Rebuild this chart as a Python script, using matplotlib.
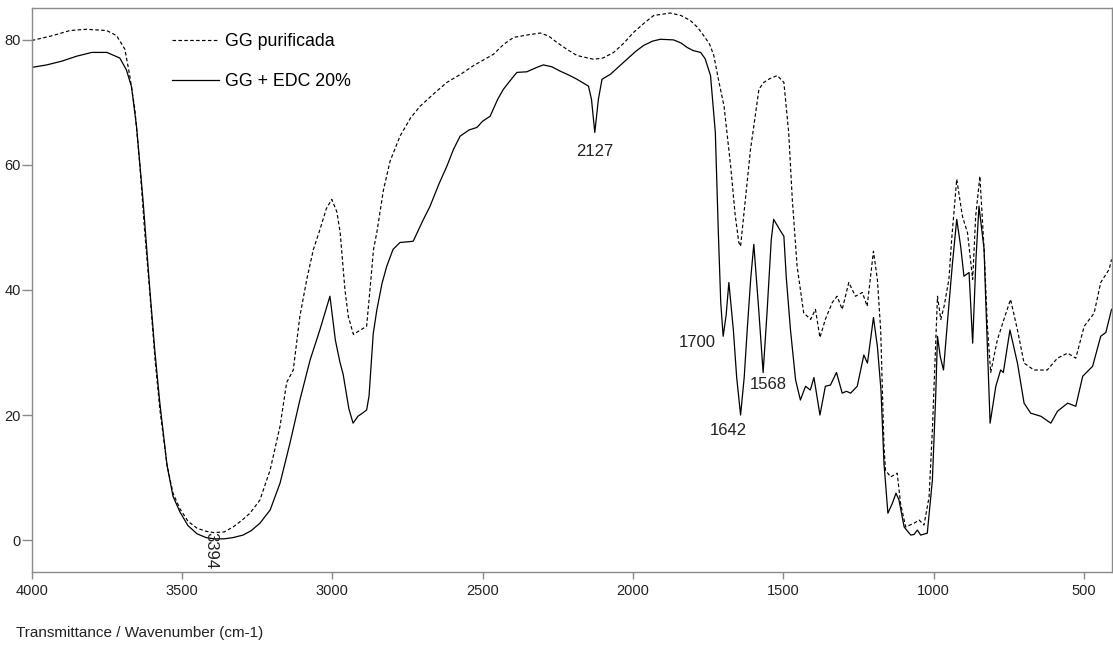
import matplotlib
matplotlib.use("Agg")
import matplotlib.pyplot as plt

plt.rcParams['font.family'] = ['Liberation Sans', 'DejaVu Sans']

# GG + EDC 20% (solid line)
wn_edc = [4000, 3950, 3900, 3850, 3800, 3750, 3707, 3685, 3668, 3651, 3630, 3607,
          3590, 3574, 3550, 3530, 3507, 3480, 3450, 3420, 3394, 3360, 3330, 3297,
          3270, 3241, 3207, 3174, 3141, 3108, 3074, 3041, 3008, 2990, 2975, 2964,
          2945, 2931, 2915, 2900, 2886, 2878, 2864, 2852, 2835, 2819, 2798, 2775,
          2750, 2731, 2700, 2675, 2645, 2619, 2597, 2575, 2545, 2519, 2500, 2475,
          2450, 2431, 2400, 2386, 2353, 2320, 2298, 2270, 2242, 2210, 2186, 2148,
          2138, 2127, 2115, 2103, 2075, 2050, 2020, 1990, 1965, 1935, 1909, 1865,
          1840, 1820, 1800, 1775, 1760, 1742, 1726, 1716, 1708, 1700, 1690, 1681,
          1666, 1655, 1642, 1630, 1620, 1608, 1598, 1581, 1567, 1554, 1540, 1532,
          1510, 1498, 1490, 1476, 1459, 1443, 1426, 1410, 1398, 1388, 1378, 1360,
          1343, 1323, 1304, 1290, 1276, 1254, 1232, 1220, 1200, 1187, 1175, 1165,
          1152, 1137, 1125, 1115, 1098, 1076, 1065, 1054, 1043, 1021, 1004, 993,
          987, 978, 967, 954, 937, 923, 910, 899, 882, 870, 859, 849,
          832, 827, 812, 793, 777, 768, 746, 721, 699, 677, 643, 610,
          588, 554, 527, 504, 471, 444, 427, 408]
t_edc = [75.6, 76.0, 76.6, 77.4, 78.0, 78.0, 77.1, 75.2, 72.5, 66.0, 54.5, 40.0,
         30.0, 22.0, 12.0, 7.0, 4.5, 2.3, 1.0, 0.4, 0.2, 0.2, 0.4, 0.8,
         1.5, 2.7, 4.8, 9.1, 15.5, 22.4, 28.8, 33.7, 39.0, 32.0, 28.5, 26.5,
         21.0, 18.7, 19.8, 20.3, 20.8, 23.0, 33.0, 36.8, 41.0, 43.8, 46.5, 47.6,
         47.7, 47.8, 51.0, 53.4, 57.0, 59.8, 62.5, 64.6, 65.6, 66.0, 67.0, 67.8,
         70.5, 72.1, 74.0, 74.8, 74.9, 75.6, 76.0, 75.7, 75.0, 74.3, 73.7, 72.6,
         70.5, 65.2, 70.5, 73.7, 74.5, 75.6, 76.9, 78.2, 79.1, 79.8, 80.1, 80.0,
         79.5, 78.8, 78.3, 78.0, 77.0, 74.3, 65.2, 49.2, 38.0, 32.6, 36.0, 41.2,
         33.6, 26.0, 20.0, 26.0, 33.6, 42.0, 47.3, 36.4, 26.8, 36.4, 48.0, 51.3,
         49.5, 48.6, 42.0, 33.6, 25.6, 22.4, 24.6, 24.0, 26.0, 23.0, 20.0, 24.6,
         24.8, 26.8, 23.5, 23.8, 23.5, 24.6, 29.6, 28.3, 35.6, 31.0, 24.0, 12.3,
         4.3, 5.9, 7.5, 6.4, 2.1, 0.8, 0.9, 1.6, 0.8, 1.1, 9.6, 23.0,
         32.6, 29.4, 27.2, 34.8, 44.4, 51.3, 47.0, 42.2, 42.8, 31.5, 45.0, 53.4,
         46.5, 39.0, 18.7, 24.6, 27.2, 26.8, 33.6, 28.3, 21.9, 20.3, 19.8, 18.7,
         20.6, 21.9, 21.4, 26.2, 27.8, 32.6, 33.2, 36.9]

# GG purificada (dashed line)
wn_gg = [4000, 3929, 3873, 3818, 3751, 3718, 3690, 3674, 3657, 3640, 3624, 3607,
         3590, 3574, 3550, 3530, 3507, 3480, 3450, 3420, 3394, 3360, 3330, 3300,
         3274, 3241, 3207, 3174, 3152, 3130, 3108, 3085, 3063, 3041, 3020, 3002,
         2985, 2974, 2958, 2947, 2930, 2910, 2886, 2874, 2863, 2852, 2830, 2808,
         2775, 2740, 2708, 2660, 2619, 2570, 2530, 2464, 2430, 2397, 2350, 2308,
         2280, 2253, 2220, 2186, 2131, 2100, 2064, 2030, 1998, 1960, 1931, 1876,
         1840, 1809, 1785, 1765, 1745, 1731, 1715, 1697, 1675, 1660, 1648, 1642,
         1626, 1609, 1598, 1581, 1565, 1545, 1520, 1498, 1482, 1470, 1454, 1432,
         1420, 1409, 1393, 1378, 1360, 1337, 1321, 1304, 1282, 1260, 1237, 1221,
         1200, 1187, 1176, 1165, 1160, 1143, 1121, 1110, 1093, 1065, 1048, 1032,
         1015, 1004, 987, 976, 965, 949, 940, 923, 904, 887, 870, 860,
         846, 832, 821, 810, 788, 766, 744, 721, 699, 666, 622, 588,
         554, 527, 499, 466, 444, 416, 408]
t_gg = [79.9, 80.7, 81.5, 81.7, 81.5, 80.7, 78.5, 74.3, 68.9, 59.8, 49.2, 39.5,
        29.0, 21.0, 12.0, 7.5, 5.0, 3.0, 1.9, 1.4, 1.2, 1.3, 2.1, 3.2,
        4.3, 6.4, 11.2, 18.2, 25.2, 27.2, 35.8, 41.7, 46.5, 49.7, 53.0, 54.5,
        52.5, 49.2, 40.0, 35.8, 32.9, 33.5, 34.2, 40.5, 46.5, 49.2, 56.0, 60.6,
        64.6, 67.5, 69.4, 71.5, 73.2, 74.6, 75.9, 77.7, 79.3, 80.4, 80.8, 81.1,
        80.6, 79.6, 78.5, 77.5, 76.9, 77.1, 78.0, 79.5, 81.2, 82.8, 83.9, 84.3,
        83.9, 83.1, 82.0, 80.7, 79.3, 77.5, 73.5, 69.4, 59.8, 52.0, 47.6, 47.0,
        54.5, 62.5, 66.2, 72.1, 73.2, 73.8, 74.3, 73.2, 65.2, 54.5, 43.8, 36.3,
        35.8, 35.3, 36.9, 32.4, 35.3, 38.0, 39.0, 36.9, 41.2, 39.0, 39.6, 37.4,
        46.2, 41.7, 33.6, 15.0, 11.2, 10.1, 10.7, 5.9, 2.1, 2.7, 3.2, 2.4,
        6.9, 17.6, 39.0, 35.3, 37.4, 41.7, 48.0, 57.7, 51.8, 49.1, 41.7, 51.8,
        58.2, 46.5, 34.2, 26.8, 32.0, 35.3, 38.5, 33.6, 28.3, 27.2, 27.2, 29.1,
        29.9, 29.1, 34.2, 36.3, 41.2, 43.3, 44.9]

# peak labels: text, x, y, alignment
peak_labels = ["2127", "1700", "1642", "1568"]
peak_x = [2127, 1725, 1682, 1612]
peak_y = [62.1, 31.6, 17.5, 24.9]
peak_ha = ["center", "right", "center", "left"]

xticks = [4000, 3500, 3000, 2500, 2000, 1500, 1000, 500]
yticks = [0, 20, 40, 60, 80]

fig = plt.figure(figsize=(11.13, 6.46), dpi=100)
ax = fig.add_axes([0.0285, 0.1146, 0.9702, 0.873])

ax.plot(wn_gg, t_gg, color="black", lw=0.85, linestyle=(0, (3, 2)), label="GG purificada")
ax.plot(wn_edc, t_edc, color="black", lw=0.9, label="GG + EDC 20%")

ax.set_xlim(4000, 408)
ax.set_ylim(-5.1, 85.1)
ax.set_xticks(xticks)
ax.set_yticks(yticks)

for s in ax.spines.values():
    s.set_color("#8a8a8a")
    s.set_linewidth(1.0)
ax.tick_params(axis="x", direction="out", length=5, width=1, color="#8a8a8a",
               pad=4, labelsize=10.5, labelcolor="#222222")
ax.tick_params(axis="y", direction="out", length=7, width=1, color="#8a8a8a",
               pad=1, labelsize=10.5, labelcolor="#222222")

for lab, x, y, ha in zip(peak_labels, peak_x, peak_y, peak_ha):
    ax.text(x, y, lab, ha=ha, va="center", fontsize=12, color="#222222")
ax.text(3404, 1.3, "3394", rotation=-90, ha="center", va="top", fontsize=12, color="#222222")

ax.legend(loc="upper left", bbox_to_anchor=(0.13, 0.955), frameon=False, fontsize=12.8,
          handlelength=2.65, handletextpad=0.35, labelspacing=1.3, borderpad=0,
          borderaxespad=0)

fig.text(0.0144, 0.0201, "Transmittance / Wavenumber (cm-1)", fontsize=11, va="center",
         ha="left", color="#222222")

fig.savefig("out.png", dpi=100)
